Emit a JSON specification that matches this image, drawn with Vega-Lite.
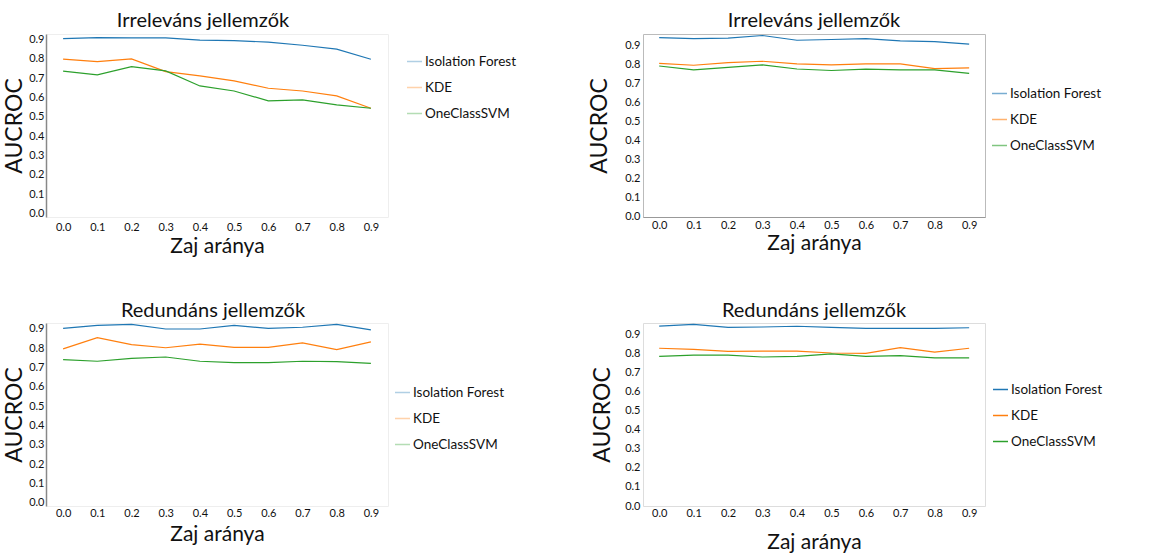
{
  "$schema": "https://vega.github.io/schema/vega-lite/v6.json",
  "background": "white",
  "padding": {"left": 3, "top": 10, "right": 0, "bottom": 0},
  "columns": 2,
  "bounds": "flush",
  "spacing": {"column": 255, "row": 106},
  "resolve": {"scale": {"color": "independent", "y": "independent", "x": "independent"}},
  "config": {
    "font": "Lato",
    "axis": {"labelFont": "Lato", "labelFontSize": 11, "labelColor": "#111", "ticks": false, "grid": false, "titleFont": "Lato", "titleFontWeight": "normal", "titleColor": "#111"},
    "legend": {"labelFont": "Lato", "labelFontSize": 13.5, "labelColor": "#111", "symbolType": "stroke", "symbolSize": 225, "symbolStrokeWidth": 1.5, "rowPadding": 11, "labelOffset": 2, "padding": 0, "orient": "none", "title": null},
    "title": {"font": "Lato", "fontSize": 20, "fontWeight": "normal", "color": "#111"}
  },
  "concat": [
    {
      "title": {"text": "Irreleváns jellemzők", "offset": 2, "dx": -14},
      "width": 342, "height": 183,
      "view": {"stroke": "#eeeeee"},
      "data": {"values": [
        {"zaj": 0.0, "model": "Isolation Forest", "auc": 0.903},
        {"zaj": 0.1, "model": "Isolation Forest", "auc": 0.908},
        {"zaj": 0.2, "model": "Isolation Forest", "auc": 0.907},
        {"zaj": 0.3, "model": "Isolation Forest", "auc": 0.907},
        {"zaj": 0.4, "model": "Isolation Forest", "auc": 0.895},
        {"zaj": 0.5, "model": "Isolation Forest", "auc": 0.893},
        {"zaj": 0.6, "model": "Isolation Forest", "auc": 0.885},
        {"zaj": 0.7, "model": "Isolation Forest", "auc": 0.869},
        {"zaj": 0.8, "model": "Isolation Forest", "auc": 0.849},
        {"zaj": 0.9, "model": "Isolation Forest", "auc": 0.797},
        {"zaj": 0.0, "model": "KDE", "auc": 0.797},
        {"zaj": 0.1, "model": "KDE", "auc": 0.785},
        {"zaj": 0.2, "model": "KDE", "auc": 0.799},
        {"zaj": 0.3, "model": "KDE", "auc": 0.733},
        {"zaj": 0.4, "model": "KDE", "auc": 0.711},
        {"zaj": 0.5, "model": "KDE", "auc": 0.685},
        {"zaj": 0.6, "model": "KDE", "auc": 0.647},
        {"zaj": 0.7, "model": "KDE", "auc": 0.633},
        {"zaj": 0.8, "model": "KDE", "auc": 0.608},
        {"zaj": 0.9, "model": "KDE", "auc": 0.544},
        {"zaj": 0.0, "model": "OneClassSVM", "auc": 0.735},
        {"zaj": 0.1, "model": "OneClassSVM", "auc": 0.716},
        {"zaj": 0.2, "model": "OneClassSVM", "auc": 0.759},
        {"zaj": 0.3, "model": "OneClassSVM", "auc": 0.737},
        {"zaj": 0.4, "model": "OneClassSVM", "auc": 0.659},
        {"zaj": 0.5, "model": "OneClassSVM", "auc": 0.633},
        {"zaj": 0.6, "model": "OneClassSVM", "auc": 0.582},
        {"zaj": 0.7, "model": "OneClassSVM", "auc": 0.587},
        {"zaj": 0.8, "model": "OneClassSVM", "auc": 0.561},
        {"zaj": 0.9, "model": "OneClassSVM", "auc": 0.544}
      ]},
      "mark": {"type": "line", "strokeWidth": 1.2},
      "encoding": {
        "x": {"field": "zaj", "type": "quantitative", "scale": {"domain": [-0.05, 0.95], "nice": false, "zero": false},
              "axis": {"values": [0, 0.1, 0.2, 0.3, 0.4, 0.5, 0.6, 0.7, 0.8, 0.9], "format": ".1f", "domain": false, "labelPadding": 4, "title": "Zaj aránya", "titleFontSize": 21, "titlePadding": 3}},
        "y": {"field": "auc", "type": "quantitative", "scale": {"domain": [-0.017, 0.927], "nice": false, "zero": false},
              "axis": {"values": [0, 0.1, 0.2, 0.3, 0.4, 0.5, 0.6, 0.7, 0.8, 0.9], "format": ".1f", "domain": true, "domainColor": "#888888", "domainWidth": 1.5, "labelPadding": 2, "title": "AUCROC", "titleFontSize": 23, "titlePadding": 2}},
        "color": {"field": "model", "type": "nominal",
                  "scale": {"domain": ["Isolation Forest", "KDE", "OneClassSVM"], "range": ["#1f77b4", "#ff7f0e", "#2ca02c"]},
                  "legend": {"legendX": 360, "legendY": 19, "symbolOpacity": 0.35}}
      }
    },
    {
      "title": {"text": "Irreleváns jellemzők", "offset": 2},
      "width": 342, "height": 183,
      "view": {"stroke": "#bbbbbb"},
      "data": {"values": [
        {"zaj": 0.0, "model": "Isolation Forest", "auc": 0.943},
        {"zaj": 0.1, "model": "Isolation Forest", "auc": 0.938},
        {"zaj": 0.2, "model": "Isolation Forest", "auc": 0.940},
        {"zaj": 0.3, "model": "Isolation Forest", "auc": 0.954},
        {"zaj": 0.4, "model": "Isolation Forest", "auc": 0.929},
        {"zaj": 0.5, "model": "Isolation Forest", "auc": 0.933},
        {"zaj": 0.6, "model": "Isolation Forest", "auc": 0.938},
        {"zaj": 0.7, "model": "Isolation Forest", "auc": 0.926},
        {"zaj": 0.8, "model": "Isolation Forest", "auc": 0.922},
        {"zaj": 0.9, "model": "Isolation Forest", "auc": 0.908},
        {"zaj": 0.0, "model": "KDE", "auc": 0.807},
        {"zaj": 0.1, "model": "KDE", "auc": 0.797},
        {"zaj": 0.2, "model": "KDE", "auc": 0.811},
        {"zaj": 0.3, "model": "KDE", "auc": 0.818},
        {"zaj": 0.4, "model": "KDE", "auc": 0.804},
        {"zaj": 0.5, "model": "KDE", "auc": 0.799},
        {"zaj": 0.6, "model": "KDE", "auc": 0.804},
        {"zaj": 0.7, "model": "KDE", "auc": 0.804},
        {"zaj": 0.8, "model": "KDE", "auc": 0.779},
        {"zaj": 0.9, "model": "KDE", "auc": 0.783},
        {"zaj": 0.0, "model": "OneClassSVM", "auc": 0.793},
        {"zaj": 0.1, "model": "OneClassSVM", "auc": 0.772},
        {"zaj": 0.2, "model": "OneClassSVM", "auc": 0.786},
        {"zaj": 0.3, "model": "OneClassSVM", "auc": 0.799},
        {"zaj": 0.4, "model": "OneClassSVM", "auc": 0.777},
        {"zaj": 0.5, "model": "OneClassSVM", "auc": 0.769},
        {"zaj": 0.6, "model": "OneClassSVM", "auc": 0.776},
        {"zaj": 0.7, "model": "OneClassSVM", "auc": 0.772},
        {"zaj": 0.8, "model": "OneClassSVM", "auc": 0.772},
        {"zaj": 0.9, "model": "OneClassSVM", "auc": 0.754}
      ]},
      "mark": {"type": "line", "strokeWidth": 1.2},
      "encoding": {
        "x": {"field": "zaj", "type": "quantitative", "scale": {"domain": [-0.047, 0.946], "nice": false, "zero": false},
              "axis": {"values": [0, 0.1, 0.2, 0.3, 0.4, 0.5, 0.6, 0.7, 0.8, 0.9], "format": ".1f", "domain": true, "domainColor": "#999999", "labelPadding": 2, "title": "Zaj aránya", "titleFontSize": 21, "titlePadding": 2}},
        "y": {"field": "auc", "type": "quantitative", "scale": {"domain": [-0.005, 0.962], "nice": false, "zero": false},
              "axis": {"values": [0, 0.1, 0.2, 0.3, 0.4, 0.5, 0.6, 0.7, 0.8, 0.9], "format": ".1f", "domain": false, "labelPadding": 3, "title": "AUCROC", "titleFontSize": 23, "titlePadding": 13}},
        "color": {"field": "model", "type": "nominal",
                  "scale": {"domain": ["Isolation Forest", "KDE", "OneClassSVM"], "range": ["#1f77b4", "#ff7f0e", "#2ca02c"]},
                  "legend": {"legendX": 348, "legendY": 51, "symbolOpacity": 0.6}}
      }
    },
    {
      "title": {"text": "Redundáns jellemzők", "offset": 1, "dx": -4},
      "width": 342, "height": 183,
      "view": {"stroke": "#eeeeee"},
      "data": {"values": [
        {"zaj": 0.0, "model": "Isolation Forest", "auc": 0.903},
        {"zaj": 0.1, "model": "Isolation Forest", "auc": 0.919},
        {"zaj": 0.2, "model": "Isolation Forest", "auc": 0.924},
        {"zaj": 0.3, "model": "Isolation Forest", "auc": 0.900},
        {"zaj": 0.4, "model": "Isolation Forest", "auc": 0.900},
        {"zaj": 0.5, "model": "Isolation Forest", "auc": 0.919},
        {"zaj": 0.6, "model": "Isolation Forest", "auc": 0.903},
        {"zaj": 0.7, "model": "Isolation Forest", "auc": 0.909},
        {"zaj": 0.8, "model": "Isolation Forest", "auc": 0.924},
        {"zaj": 0.9, "model": "Isolation Forest", "auc": 0.895},
        {"zaj": 0.0, "model": "KDE", "auc": 0.797},
        {"zaj": 0.1, "model": "KDE", "auc": 0.855},
        {"zaj": 0.2, "model": "KDE", "auc": 0.819},
        {"zaj": 0.3, "model": "KDE", "auc": 0.803},
        {"zaj": 0.4, "model": "KDE", "auc": 0.822},
        {"zaj": 0.5, "model": "KDE", "auc": 0.805},
        {"zaj": 0.6, "model": "KDE", "auc": 0.805},
        {"zaj": 0.7, "model": "KDE", "auc": 0.828},
        {"zaj": 0.8, "model": "KDE", "auc": 0.793},
        {"zaj": 0.9, "model": "KDE", "auc": 0.833},
        {"zaj": 0.0, "model": "OneClassSVM", "auc": 0.741},
        {"zaj": 0.1, "model": "OneClassSVM", "auc": 0.733},
        {"zaj": 0.2, "model": "OneClassSVM", "auc": 0.748},
        {"zaj": 0.3, "model": "OneClassSVM", "auc": 0.755},
        {"zaj": 0.4, "model": "OneClassSVM", "auc": 0.733},
        {"zaj": 0.5, "model": "OneClassSVM", "auc": 0.726},
        {"zaj": 0.6, "model": "OneClassSVM", "auc": 0.726},
        {"zaj": 0.7, "model": "OneClassSVM", "auc": 0.733},
        {"zaj": 0.8, "model": "OneClassSVM", "auc": 0.731},
        {"zaj": 0.9, "model": "OneClassSVM", "auc": 0.722}
      ]},
      "mark": {"type": "line", "strokeWidth": 1.2},
      "encoding": {
        "x": {"field": "zaj", "type": "quantitative", "scale": {"domain": [-0.05, 0.95], "nice": false, "zero": false},
              "axis": {"values": [0, 0.1, 0.2, 0.3, 0.4, 0.5, 0.6, 0.7, 0.8, 0.9], "format": ".1f", "domain": false, "labelPadding": 1, "title": "Zaj aránya", "titleFontSize": 21, "titlePadding": 5}},
        "y": {"field": "auc", "type": "quantitative", "scale": {"domain": [-0.016, 0.931], "nice": false, "zero": false},
              "axis": {"values": [0, 0.1, 0.2, 0.3, 0.4, 0.5, 0.6, 0.7, 0.8, 0.9], "format": ".1f", "domain": true, "domainColor": "#888888", "domainWidth": 1.5, "labelPadding": 2, "title": "AUCROC", "titleFontSize": 23, "titlePadding": 2}},
        "color": {"field": "model", "type": "nominal",
                  "scale": {"domain": ["Isolation Forest", "KDE", "OneClassSVM"], "range": ["#1f77b4", "#ff7f0e", "#2ca02c"]},
                  "legend": {"legendX": 348, "legendY": 61, "symbolOpacity": 0.35}}
      }
    },
    {
      "title": {"text": "Redundáns jellemzők", "offset": 1},
      "width": 342, "height": 183,
      "view": {"stroke": "#dddddd"},
      "data": {"values": [
        {"zaj": 0.0, "model": "Isolation Forest", "auc": 0.947},
        {"zaj": 0.1, "model": "Isolation Forest", "auc": 0.956},
        {"zaj": 0.2, "model": "Isolation Forest", "auc": 0.940},
        {"zaj": 0.3, "model": "Isolation Forest", "auc": 0.942},
        {"zaj": 0.4, "model": "Isolation Forest", "auc": 0.946},
        {"zaj": 0.5, "model": "Isolation Forest", "auc": 0.940},
        {"zaj": 0.6, "model": "Isolation Forest", "auc": 0.935},
        {"zaj": 0.7, "model": "Isolation Forest", "auc": 0.935},
        {"zaj": 0.8, "model": "Isolation Forest", "auc": 0.935},
        {"zaj": 0.9, "model": "Isolation Forest", "auc": 0.938},
        {"zaj": 0.0, "model": "KDE", "auc": 0.830},
        {"zaj": 0.1, "model": "KDE", "auc": 0.824},
        {"zaj": 0.2, "model": "KDE", "auc": 0.814},
        {"zaj": 0.3, "model": "KDE", "auc": 0.815},
        {"zaj": 0.4, "model": "KDE", "auc": 0.815},
        {"zaj": 0.5, "model": "KDE", "auc": 0.805},
        {"zaj": 0.6, "model": "KDE", "auc": 0.803},
        {"zaj": 0.7, "model": "KDE", "auc": 0.833},
        {"zaj": 0.8, "model": "KDE", "auc": 0.810},
        {"zaj": 0.9, "model": "KDE", "auc": 0.830},
        {"zaj": 0.0, "model": "OneClassSVM", "auc": 0.787},
        {"zaj": 0.1, "model": "OneClassSVM", "auc": 0.794},
        {"zaj": 0.2, "model": "OneClassSVM", "auc": 0.794},
        {"zaj": 0.3, "model": "OneClassSVM", "auc": 0.784},
        {"zaj": 0.4, "model": "OneClassSVM", "auc": 0.787},
        {"zaj": 0.5, "model": "OneClassSVM", "auc": 0.801},
        {"zaj": 0.6, "model": "OneClassSVM", "auc": 0.787},
        {"zaj": 0.7, "model": "OneClassSVM", "auc": 0.791},
        {"zaj": 0.8, "model": "OneClassSVM", "auc": 0.780},
        {"zaj": 0.9, "model": "OneClassSVM", "auc": 0.780}
      ]},
      "mark": {"type": "line", "strokeWidth": 1.2},
      "encoding": {
        "x": {"field": "zaj", "type": "quantitative", "scale": {"domain": [-0.047, 0.946], "nice": false, "zero": false},
              "axis": {"values": [0, 0.1, 0.2, 0.3, 0.4, 0.5, 0.6, 0.7, 0.8, 0.9], "format": ".1f", "domain": false, "labelPadding": 1, "title": "Zaj aránya", "titleFontSize": 21, "titlePadding": 13}},
        "y": {"field": "auc", "type": "quantitative", "scale": {"domain": [0.0, 0.963], "nice": false, "zero": false},
              "axis": {"values": [0, 0.1, 0.2, 0.3, 0.4, 0.5, 0.6, 0.7, 0.8, 0.9], "format": ".1f", "domain": false, "labelPadding": 3, "title": "AUCROC", "titleFontSize": 23, "titlePadding": 10}},
        "color": {"field": "model", "type": "nominal",
                  "scale": {"domain": ["Isolation Forest", "KDE", "OneClassSVM"], "range": ["#1f77b4", "#ff7f0e", "#2ca02c"]},
                  "legend": {"legendX": 349, "legendY": 58, "symbolOpacity": 1}}
      }
    }
  ]
}
